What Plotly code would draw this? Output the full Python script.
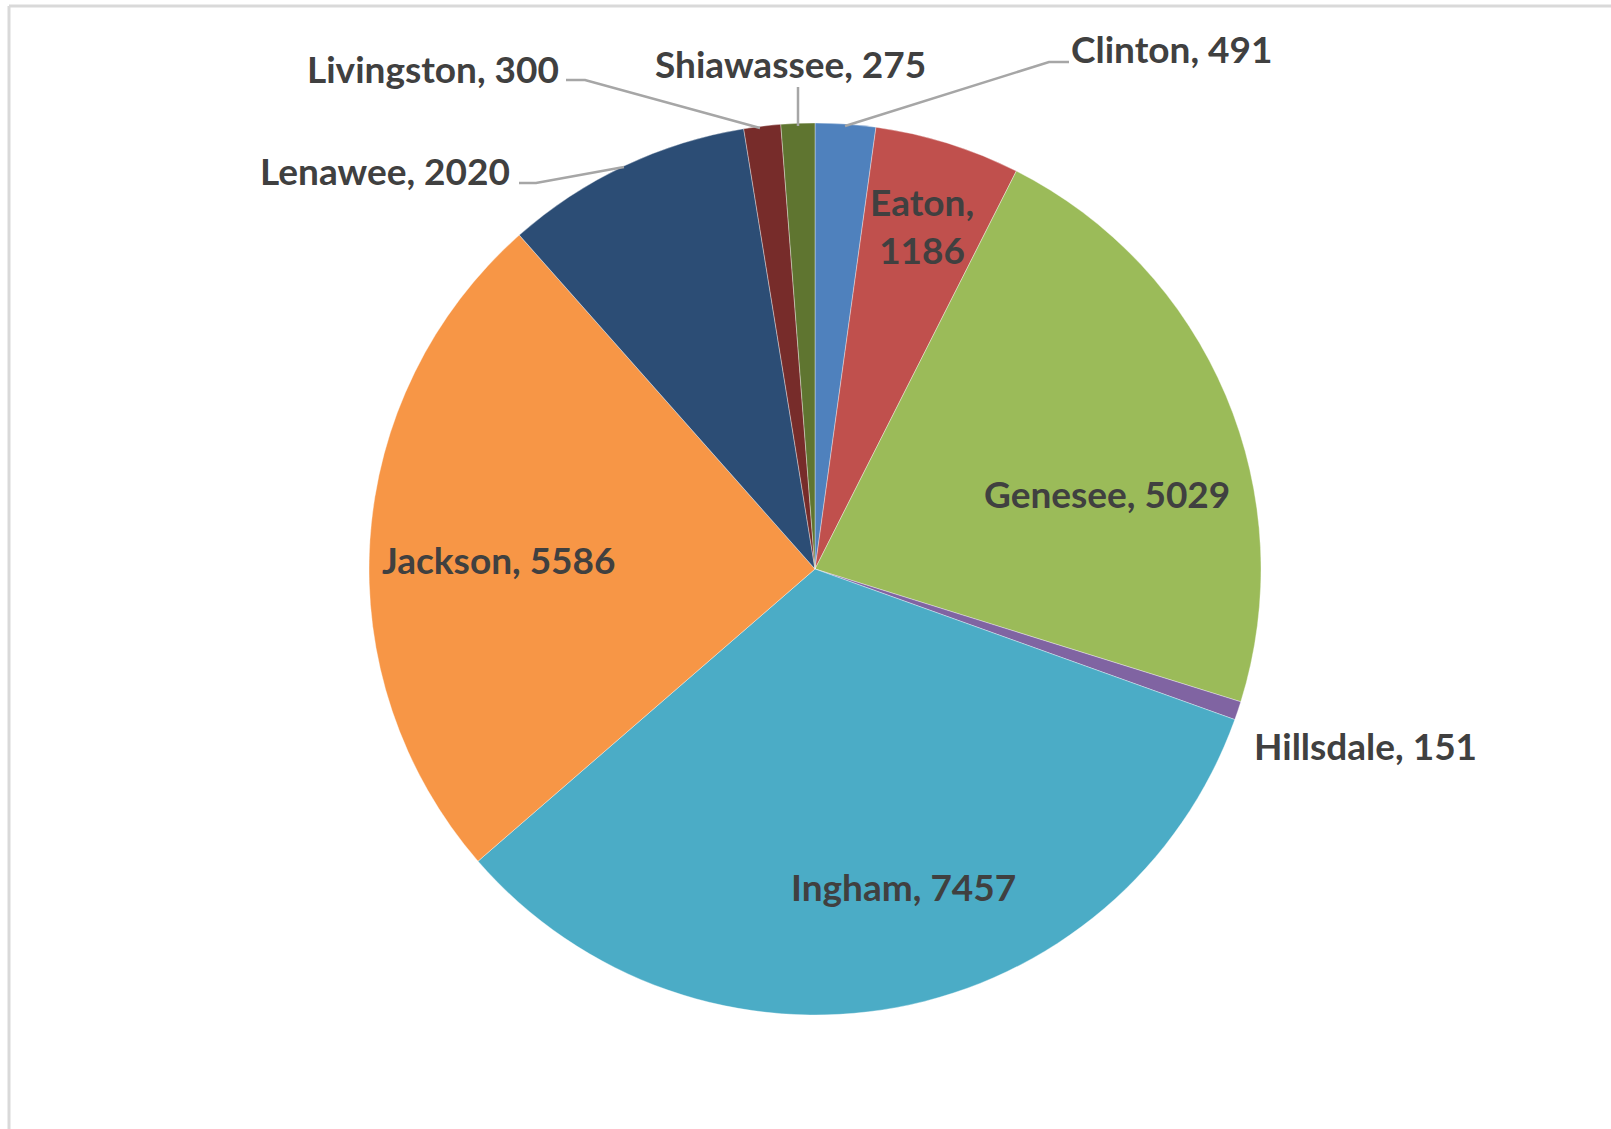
import plotly.graph_objects as go

counties = ["Clinton", "Eaton", "Genesee", "Hillsdale", "Ingham", "Jackson",
            "Lenawee", "Livingston", "Shiawassee"]
counts = [491, 1186, 5029, 151, 7457, 5586, 2020, 300, 275]
colors = ["#4F81BD", "#C0504D", "#9BBB59", "#8064A2", "#4BACC6", "#F79646",
          "#2C4D75", "#772C2A", "#5F7530"]

W, H = 1611, 1129
CX, CY, R = 815, 569, 446


def px(x):
    return x / W


def py(y):
    return 1 - y / H


fig = go.Figure()
fig.add_trace(go.Pie(
    labels=counties, values=counts, sort=False, direction="clockwise",
    rotation=0, textinfo="none", hoverinfo="label+value",
    marker=dict(colors=colors, line=dict(color="rgba(255,255,255,0.6)", width=0.6)),
    domain=dict(x=[px(CX - R), px(CX + R)], y=[py(CY + R), py(CY - R)]),
    showlegend=False,
))

# label placement (pixel positions in the page)
label_pos = {
    "Clinton": (1171, 49, "center"),
    "Eaton": (922, 226, "center"),
    "Genesee": (1107, 493, "center"),
    "Hillsdale": (1365, 745, "center"),
    "Ingham": (904, 886, "center"),
    "Jackson": (499, 559, "center"),
    "Lenawee": (512, 171, "right"),
    "Livingston": (561, 69, "right"),
    "Shiawassee": (790, 63, "center"),
}

annotations = []
for name, val in zip(counties, counts):
    x, y, anchor = label_pos[name]
    sep = ",<br>" if name == "Eaton" else ", "
    annotations.append(dict(
        x=px(x), y=py(y), xref="paper", yref="paper", xanchor=anchor,
        yanchor="middle", showarrow=False, text=f"{name}{sep}{val}",
        font=dict(family="Lato", size=37, color="#404040", weight="bold"),
        align="center",
    ))

leaders = [
    [(566, 80), (585, 80), (760, 128)],
    [(798, 87), (798, 126)],
    [(1069, 62), (1049, 62), (845, 126)],
    [(519, 183), (536, 183), (624, 167)],
]
shapes = []
for pts in leaders:
    path = "M " + " L ".join(f"{px(a)},{py(b)}" for a, b in pts)
    shapes.append(dict(type="path", path=path, xref="paper", yref="paper",
                       line=dict(color="#A6A6A6", width=2.5)))

# chart frame (top and left edges visible)
shapes.append(dict(type="line", xref="paper", yref="paper", x0=px(9), x1=1.0,
                   y0=py(6), y1=py(6), line=dict(color="#D9D9D9", width=3)))
shapes.append(dict(type="line", xref="paper", yref="paper", x0=px(9), x1=px(9),
                   y0=py(6), y1=0.0, line=dict(color="#D9D9D9", width=3)))

fig.update_layout(
    width=W, height=H, margin=dict(l=0, r=0, t=0, b=0),
    paper_bgcolor="white", plot_bgcolor="white",
    annotations=annotations, shapes=shapes,
)

fig.write_html("out.html", config={"displayModeBar": False},
               post_script="document.body.style.margin='0';document.body.style.overflow='hidden';")
